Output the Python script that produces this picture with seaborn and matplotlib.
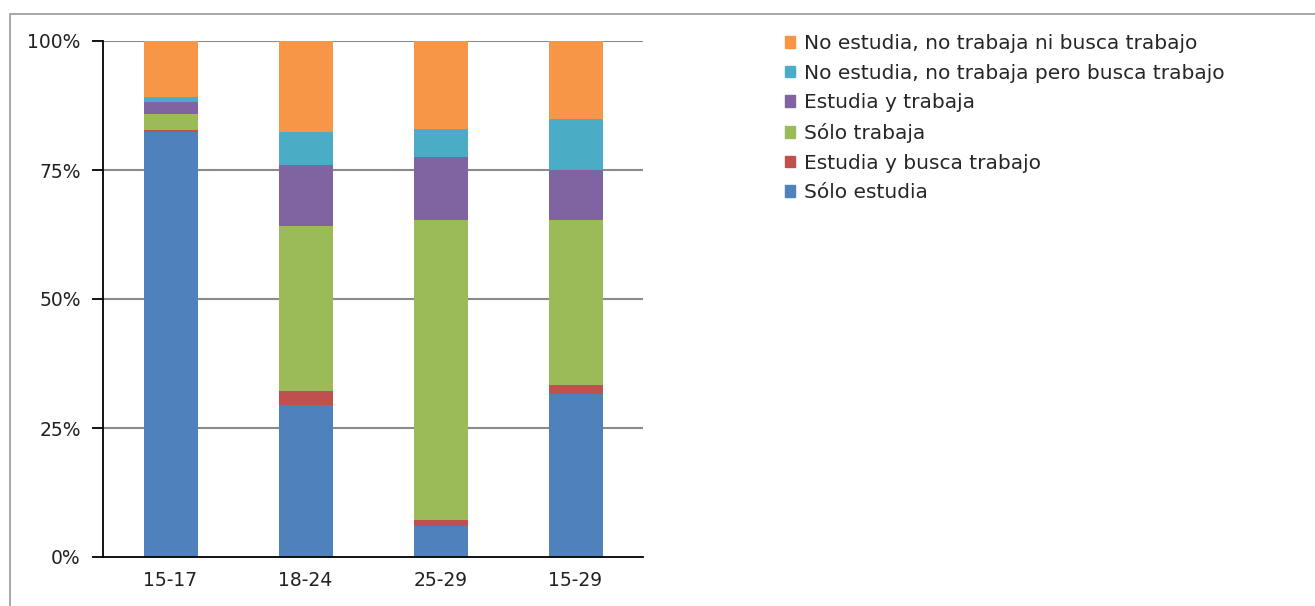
import numpy as np
import pandas as pd
import matplotlib
matplotlib.use("Agg")
import matplotlib.pyplot as plt
import matplotlib.patches as mpatches
import seaborn as sns

categories = ["15-17", "18-24", "25-29", "15-29"]
series_names = [
    "Sólo estudia",
    "Estudia y busca trabajo",
    "Sólo trabaja",
    "Estudia y trabaja",
    "No estudia, no trabaja pero busca trabajo",
    "No estudia, no trabaja ni busca trabajo",
]
solo_estudia = [82.4, 29.5, 6.0, 31.6]
estudia_busca = [0.3, 2.7, 1.2, 1.7]
solo_trabaja = [3.1, 32.0, 58.1, 32.0]
estudia_trabaja = [2.3, 11.8, 12.3, 9.7]
no_pero_busca = [1.0, 6.4, 5.3, 9.8]
no_ni_busca = [10.9, 17.6, 17.1, 15.2]
colors = ["#4F81BD", "#C0504D", "#9BBB59", "#8064A2", "#4BACC6", "#F79646"]
y_ticks = [0, 25, 50, 75, 100]
y_tick_labels = ["0%", "25%", "50%", "75%", "100%"]

sns.set_theme(style="white")
plt.rcParams["font.family"] = ["DejaVu Sans"]

series = [solo_estudia, estudia_busca, solo_trabaja, estudia_trabaja,
          no_pero_busca, no_ni_busca]
cum = np.cumsum(np.array(series), axis=0)

fig = plt.figure(figsize=(13.15, 6.06), dpi=100)
ax = fig.add_axes([103 / 1315, 49 / 606, 540 / 1315, 516 / 606])

for i in reversed(range(len(series))):
    df = pd.DataFrame({"cat": categories, "val": cum[i]})
    sns.barplot(data=df, x="cat", y="val", color=colors[i], saturation=1,
                width=0.4, ax=ax, zorder=3, linewidth=0, errorbar=None)

ax.set_xlim(-0.5, 3.5)
ax.set_ylim(0, 100)
ax.set_yticks(y_ticks)
ax.set_yticklabels(y_tick_labels, fontsize=13.5, color="#222222")
ax.set_xticks(range(len(categories)))
ax.set_xticklabels(categories, fontsize=13.5, color="#222222")
ax.tick_params(axis="x", which="major", length=0, pad=10)
ax.set_xticks([-0.5, 0.5, 1.5, 2.5, 3.5], minor=True)
ax.tick_params(axis="x", which="minor", length=8, width=1.3, color="black",
               direction="out")
ax.tick_params(axis="y", length=8, width=1.3, color="black", direction="out",
               left=True, pad=8)
ax.set_xlabel("")
ax.set_ylabel("")
for yv in y_ticks[1:]:
    ax.axhline(yv, color="#8a8a8a", linewidth=1.5, zorder=1)
for s in ["top", "right"]:
    ax.spines[s].set_visible(False)
for s in ["left", "bottom"]:
    ax.spines[s].set_visible(True)
    ax.spines[s].set_color("black")
    ax.spines[s].set_linewidth(1.3)
    ax.spines[s].set_zorder(4)

handles = [mpatches.Patch(color=colors[i], label=series_names[i])
           for i in reversed(range(len(series)))]
fig.legend(handles=handles, loc="upper left",
           bbox_to_anchor=(785 / 1315, 1 - 34 / 606), frameon=False,
           fontsize=14.5, handlelength=0.52, handleheight=0.52,
           handletextpad=0.4, labelspacing=0.53, borderaxespad=0,
           borderpad=0)

border = mpatches.Rectangle((10 / 1315, -0.1), 1.2, 1 - 14 / 606 + 0.1,
                            transform=fig.transFigure, fill=False,
                            edgecolor="#a0a0a0", linewidth=1.3)
fig.patches.append(border)

fig.savefig("out.png", dpi=100)
